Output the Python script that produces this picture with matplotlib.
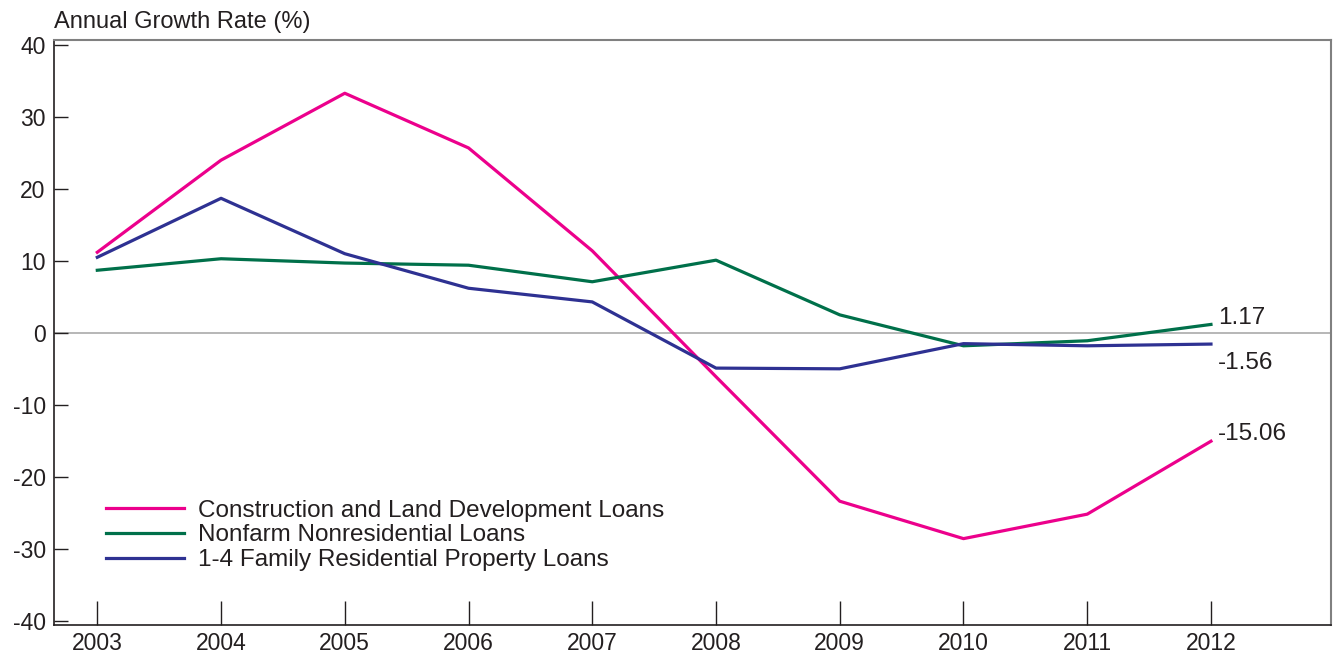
import numpy as np
import matplotlib.pyplot as plt

plt.rcParams['font.family'] = ['Liberation Sans', 'DejaVu Sans']
plt.rcParams['axes.unicode_minus'] = False

years = [2003, 2004, 2005, 2006, 2007, 2008, 2009, 2010, 2011, 2012]
construction = [11.2, 24.0, 33.3, 25.7, 11.4, -6.1, -23.4, -28.6, -25.2, -15.06]
nonfarm = [8.7, 10.3, 9.7, 9.4, 7.1, 10.1, 2.5, -1.8, -1.1, 1.17]
residential = [10.5, 18.7, 11.0, 6.2, 4.3, -4.9, -5.0, -1.5, -1.8, -1.56]

labels = ["Construction and Land Development Loans",
          "Nonfarm Nonresidential Loans",
          "1-4 Family Residential Property Loans"]
colors = ["#EC008C", "#00704A", "#2E3192"]
text_color = "#231F20"
fs_tick = 16.5
fs_text = 17.5

fig = plt.figure(figsize=(13.33, 6.58), dpi=100)
ax = fig.add_axes([0.0405, 0.0502, 0.958, 0.889])

ax.axhline(0, color="#aaaaaa", linewidth=1.2, zorder=1)
for ys, lab, c in zip([construction, nonfarm, residential], labels, colors):
    ax.plot(years, ys, color=c, linewidth=2.3, label=lab, zorder=3)

# end labels
ax.annotate(f"{nonfarm[-1]:.2f}", (years[-1], nonfarm[-1]), xytext=(5, -3),
            textcoords="offset points", fontsize=fs_text, color=text_color, va="bottom")
ax.annotate(f"{residential[-1]:.2f}", (years[-1], residential[-1]), xytext=(5, -6),
            textcoords="offset points", fontsize=fs_text, color=text_color, va="top")
ax.annotate(f"{construction[-1]:.2f}", (years[-1], construction[-1]), xytext=(5, -3),
            textcoords="offset points", fontsize=fs_text, color=text_color, va="bottom")

ax.set_xlim(2002.65, 2012.97)
ax.set_ylim(-40.6, 40.7)
ax.set_xticks(years)
ax.set_yticks(range(-40, 41, 10))
ax.tick_params(axis="x", direction="in", length=17, width=1, color="#231F20",
               labelsize=fs_tick, labelcolor=text_color, pad=5)
ax.tick_params(axis="y", direction="in", length=10, width=1, color="#231F20",
               labelsize=fs_tick, labelcolor=text_color, pad=6)

for side in ["top", "right"]:
    ax.spines[side].set_color("#808080")
    ax.spines[side].set_linewidth(1.5)
for side in ["left", "bottom"]:
    ax.spines[side].set_color("#231F20")
    ax.spines[side].set_linewidth(1.2)

ax.text(0, 1.012, "Annual Growth Rate (%)", transform=ax.transAxes,
        fontsize=17, color=text_color, ha="left", va="bottom")

leg = ax.legend(loc="lower left", bbox_to_anchor=(0.033, 0.075), frameon=False,
                fontsize=fs_text, handlelength=3.2, handletextpad=0.6,
                labelspacing=0.12, borderaxespad=0)
for t in leg.get_texts():
    t.set_color(text_color)

fig.savefig("out.png", dpi=100)
